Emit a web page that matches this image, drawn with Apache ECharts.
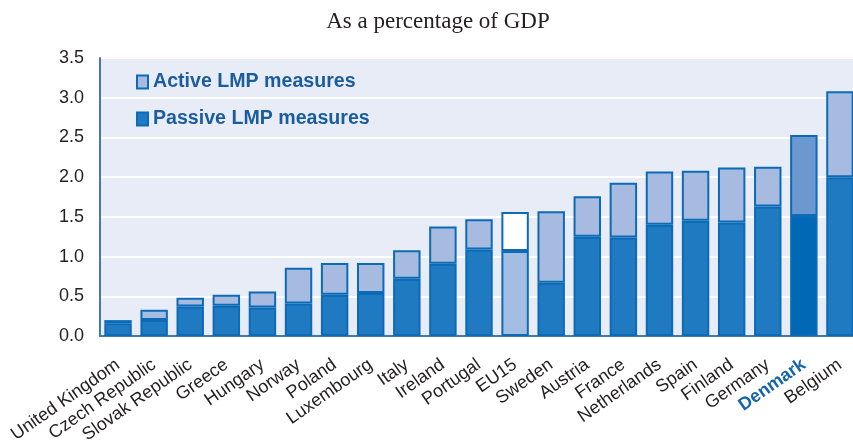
<!DOCTYPE html>
<html>
<head>
<meta charset="utf-8">
<script src="https://cdn.jsdelivr.net/npm/echarts@6/dist/echarts.min.js"></script>
<style>
  html, body { margin: 0; padding: 0; background: #ffffff; }
  #chart { width: 853px; height: 443px; }
</style>
</head>
<body>
<div id="chart"></div>
<script>
// Public spending on labour market programmes, % of GDP
const countries = [
  'United Kingdom', 'Czech Republic', 'Slovak Republic', 'Greece', 'Hungary',
  'Norway', 'Poland', 'Luxembourg', 'Italy', 'Ireland', 'Portugal', 'EU15',
  'Sweden', 'Austria', 'France', 'Netherlands', 'Spain', 'Finland', 'Germany',
  'Denmark', 'Belgium'
];
const passiveLMP = [
  0.16, 0.20, 0.37, 0.38, 0.36, 0.41, 0.52, 0.54, 0.72, 0.91, 1.09, 1.07,
  0.67, 1.25, 1.24, 1.40, 1.45, 1.43, 1.63, 1.51, 2.00
];
const activeLMP = [
  0.04, 0.13, 0.11, 0.14, 0.20, 0.45, 0.40, 0.38, 0.36, 0.47, 0.38, 0.49,
  0.90, 0.51, 0.69, 0.67, 0.63, 0.69, 0.50, 1.02, 1.08
];
const highlightEU = 'EU15';
const highlightCountry = 'Denmark';

const BORDER = '#0b6bb7';
const COL_PASSIVE = '#1f7ac2';
const COL_ACTIVE = '#a7bbe1';

function styled(values, kind) {
  return values.map((v, i) => {
    const c = countries[i];
    if (c === highlightEU) {
      return { value: v, itemStyle: { color: kind === 'p' ? '#a3bde3' : '#ffffff' } };
    }
    if (c === highlightCountry) {
      return { value: v, itemStyle: { color: kind === 'p' ? '#0068b4' : '#6b98cf' } };
    }
    return v;
  });
}

const chart = echarts.init(document.getElementById('chart'), null, { renderer: 'canvas' });
chart.setOption({
  animation: false,
  title: {
    text: 'As a percentage of GDP',
    left: 433,
    top: 5,
    textAlign: 'center',
    textStyle: {
      fontFamily: 'Liberation Serif',
      fontWeight: 'normal',
      fontSize: 23,
      color: '#231f20'
    }
  },
  legend: {
    orient: 'vertical',
    left: 131,
    top: 67,
    icon: 'rect',
    itemWidth: 11,
    itemHeight: 13,
    itemGap: 17,
    data: ['Active LMP measures', 'Passive LMP measures'],
    textStyle: {
      fontFamily: 'Liberation Sans',
      fontWeight: 'bold',
      fontSize: 19.6,
      color: '#1a5c9e'
    }
  },
  grid: {
    left: 100,
    right: -5,
    top: 58,
    bottom: 107,
    outerBoundsMode: 'none',
    containLabel: false,
    show: true,
    backgroundColor: '#e8ecf6',
    borderWidth: 0
  },
  xAxis: {
    type: 'category',
    data: countries,
    axisLine: { show: true, lineStyle: { color: '#4478ae', width: 2 } },
    axisTick: { show: false },
    axisLabel: {
      interval: 0,
      rotate: 35,
      margin: 27,
      fontFamily: 'Liberation Sans',
      fontSize: 18,
      color: '#231f20',
      formatter: (v) => v === highlightCountry ? '{hl|' + v + '}' : v,
      rich: {
        hl: {
          fontFamily: 'Liberation Sans',
          fontSize: 18,
          fontWeight: 'bold',
          color: '#1565a9'
        }
      }
    }
  },
  yAxis: {
    type: 'value',
    min: 0,
    max: 3.5,
    interval: 0.5,
    axisLine: { show: true, lineStyle: { color: '#4478ae', width: 2 } },
    axisTick: { show: false },
    splitLine: { show: true, lineStyle: { color: '#ffffff', width: 2 } },
    axisLabel: {
      margin: 16,
      fontFamily: 'Liberation Sans',
      fontSize: 18,
      color: '#231f20',
      formatter: (v) => v.toFixed(1)
    }
  },
  series: [
    {
      name: 'Passive LMP measures',
      type: 'bar',
      stack: 'lmp',
      barWidth: '76%',
      data: styled(passiveLMP, 'p'),
      itemStyle: { color: COL_PASSIVE, borderColor: BORDER, borderWidth: 2 }
    },
    {
      name: 'Active LMP measures',
      type: 'bar',
      stack: 'lmp',
      barWidth: '76%',
      data: styled(activeLMP, 'a'),
      itemStyle: { color: COL_ACTIVE, borderColor: BORDER, borderWidth: 2 }
    }
  ]
});
</script>
</body>
</html>
